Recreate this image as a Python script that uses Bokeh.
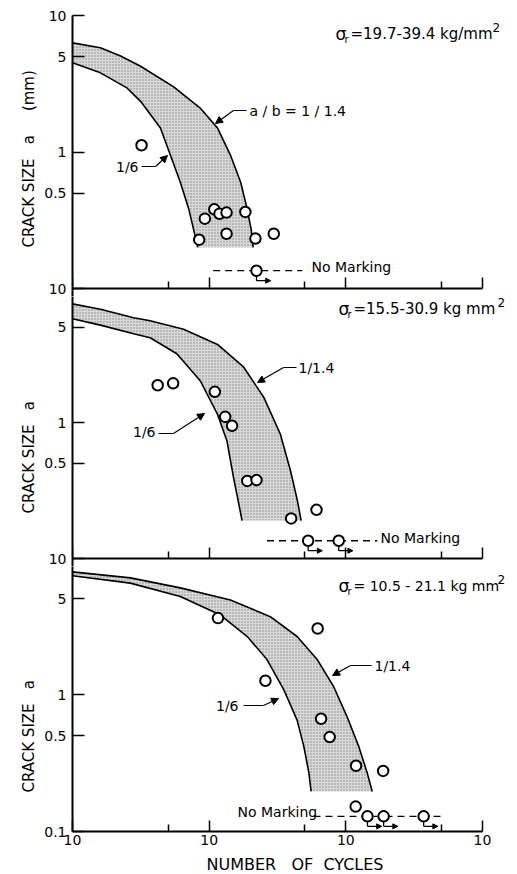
import math
from bokeh.plotting import figure
from bokeh.layouts import column
from bokeh.models import (FixedTicker, CustomJSTickFormatter, Label, Arrow,
                          NormalHead, ColumnDataSource, Range1d, Title)
from bokeh.embed import file_html
from bokeh.resources import INLINE

# ---------------- data (cycles, crack size mm) ----------------
# Panel A : sigma_r = 19.7-39.4 kg/mm2
A_upper_N = [1000, 1600, 2250, 3150, 5500, 8600, 11500, 14300, 17000, 19000, 20300, 21000]
A_upper_a = [6.3, 5.8, 5.05, 4.25, 3.0, 2.1, 1.5, 0.95, 0.6, 0.38, 0.27, 0.2]
A_lower_N = [1000, 1600, 2500, 3150, 4400, 5200, 6150, 7100, 7700, 8250]
A_lower_a = [4.5, 3.8, 2.95, 2.35, 1.5, 0.95, 0.6, 0.38, 0.27, 0.2]
A_pts_N = [3200, 8450, 9300, 10900, 11900, 13400, 13400, 18400, 21800, 29700]
A_pts_a = [1.12, 0.228, 0.325, 0.38, 0.353, 0.36, 0.252, 0.364, 0.232, 0.252]
A_nm_N = [22200]
A_nm_a = [0.135]
A_nm_arrow = [True]
A_dash_N = [10700, 48000]
A_dash_a = [0.135, 0.135]

# Panel B : sigma_r = 15.5-30.9 kg/mm2
B_upper_N = [1000, 1600, 2800, 3700, 6500, 11500, 17900, 25100, 33200, 39400, 44100, 47100]
B_upper_a = [7.45, 6.8, 5.9, 5.6, 4.85, 3.75, 2.55, 1.53, 0.82, 0.44, 0.27, 0.19]
B_lower_N = [1000, 1600, 2800, 3700, 5800, 8600, 11500, 13500, 15100, 16500, 17400]
B_lower_a = [5.8, 5.2, 4.5, 4.2, 3.2, 2.03, 1.15, 0.73, 0.39, 0.25, 0.19]
B_pts_N = [4200, 5450, 11000, 13100, 14700, 19000, 22200, 39800, 61000]
B_pts_a = [1.88, 1.94, 1.68, 1.10, 0.946, 0.372, 0.377, 0.197, 0.228]
B_nm_N = [53000, 88700]
B_nm_a = [0.135, 0.135]
B_nm_arrow = [True, True]
B_dash_N = [26500, 170000]
B_dash_a = [0.135, 0.135]

# Panel C : sigma_r = 10.5-21.1 kg/mm2
C_upper_N = [1000, 2650, 6150, 14300, 28000, 44000, 61700, 81500, 102000, 124000, 143000, 156000]
C_upper_a = [7.85, 7.1, 6.0, 4.9, 3.7, 2.65, 1.8, 1.14, 0.69, 0.42, 0.27, 0.196]
C_lower_N = [1000, 2650, 6150, 12100, 19000, 26500, 35200, 44000, 49200, 53600, 55700]
C_lower_a = [7.35, 6.5, 5.2, 3.8, 2.65, 1.8, 1.08, 0.65, 0.42, 0.27, 0.196]
C_pts_N = [11600, 25800, 62200, 65900, 76200, 118800, 187500]
C_pts_a = [3.61, 1.26, 3.03, 0.665, 0.489, 0.302, 0.277]
C_nm_N = [118000, 144000, 189000, 371000]
C_nm_a = [0.152, 0.129, 0.129, 0.129]
C_nm_arrow = [False, True, True, True]
C_dash_N = [58000, 536000]
C_dash_a = [0.129, 0.129]

x_ticks = [1e3, 1e4, 1e5, 1e6]
x_minor = [5e3, 5e4, 5e5]
y_ticks = [0.1, 0.5, 1, 5, 10]

FONT = "DejaVu Sans"
NB = "\u00a0"
LEFT = 72
AXIS_W = 410                 # pixel length of the x axis (3 decades)
FRAME_W = 517 - LEFT         # frame runs to the right edge so texts are not clipped
XDEC = AXIS_W / 3.0
X_END = 10 ** (3 + FRAME_W / XDEC)


def fx(px):
    return 10 ** (3 + (px - LEFT) / XDEC)


def fy_factory(py01, dec):
    return lambda py: 10 ** (-1 + (py01 - py) / dec)


fyA = fy_factory(288, 136.5)
fyB = fy_factory(558, 136.0)
fyC = fy_factory(831, 137.0)

Y_FMT_10 = """
if (Math.abs(tick-0.1)<1e-9) return "10";
if (Math.abs(tick-0.5)<1e-9) return "0.5";
if (Math.abs(tick-1)<1e-9) return "1";
if (Math.abs(tick-5)<1e-9) return "5";
return "10";
"""
Y_FMT_01 = Y_FMT_10.replace('(tick-0.1)<1e-9) return "10"', '(tick-0.1)<1e-9) return "0.1"')


def make_fig(frame_h, y0, y1, top, bottom, last, ytitle, ytitle_offset):
    p = figure(x_axis_type="log", y_axis_type="log",
               x_range=Range1d(1e3, X_END), y_range=Range1d(y0, y1),
               frame_width=FRAME_W, frame_height=frame_h,
               min_border_left=LEFT, min_border_right=0,
               min_border_top=top, min_border_bottom=bottom,
               toolbar_location=None, output_backend="svg")
    p.outline_line_color = None
    p.grid.visible = False
    p.background_fill_color = "white"
    p.border_fill_color = "white"

    ya = p.yaxis[0]
    ya.ticker = FixedTicker(ticks=y_ticks, minor_ticks=[])
    ya.formatter = CustomJSTickFormatter(code=(Y_FMT_01 if last else Y_FMT_10))
    ya.axis_line_width = 2
    ya.major_tick_in = 12
    ya.major_tick_out = 0
    ya.minor_tick_in = 0
    ya.minor_tick_out = 0
    ya.major_tick_line_width = 1.5
    ya.major_label_text_font = FONT
    ya.major_label_text_font_size = "14px"
    ya.major_label_text_color = "black"
    ya.major_label_standoff = 6

    xa = p.xaxis[0]
    xa.ticker = FixedTicker(ticks=x_ticks, minor_ticks=x_minor)
    xa.bounds = (1e3, 1e6)
    xa.axis_line_width = 2
    xa.major_tick_in = 11
    xa.major_tick_out = 0
    xa.minor_tick_in = 7
    xa.minor_tick_out = 0
    xa.major_tick_line_width = 1.5
    xa.minor_tick_line_width = 1.5
    if last:
        xa.formatter = CustomJSTickFormatter(code='return "10";')
        xa.major_label_text_font = FONT
        xa.major_label_text_font_size = "14px"
        xa.major_label_text_color = "black"
        xa.major_label_standoff = 3
        xa.axis_label = "NUMBER" + NB * 3 + "OF" + NB * 2 + "CYCLES"
        xa.axis_label_text_font = FONT
        xa.axis_label_text_font_style = "normal"
        xa.axis_label_text_font_size = "16px"
        xa.axis_label_text_color = "black"
        xa.axis_label_standoff = 7
    else:
        xa.fixed_location = 0.1
        xa.formatter = CustomJSTickFormatter(code='return "";')
        xa.major_label_text_font_size = "0px"
        xa.major_label_standoff = 0

    p.add_layout(Title(text=ytitle, align="left", offset=ytitle_offset,
                       text_font=FONT, text_font_size="15px", text_font_style="normal",
                       text_color="black", standoff=8), "left")
    return p


def draw_panel(p, up_N, up_a, lo_N, lo_a, pts_N, pts_a, nm_N, nm_a, nm_arrow, dash_N, dash_a):
    band_x = list(up_N) + list(reversed(lo_N))
    band_y = list(up_a) + list(reversed(lo_a))
    p.patch(band_x, band_y, fill_color="#d9d9d9", line_color=None,
            hatch_pattern="dot", hatch_color="#6e6e6e", hatch_scale=3, hatch_alpha=0.75)
    p.line(up_N, up_a, line_color="black", line_width=1.6)
    p.line(lo_N, lo_a, line_color="black", line_width=1.6)
    p.line(dash_N, dash_a, line_color="black", line_width=1.3, line_dash="7 5")
    p.scatter(pts_N, pts_a, marker="circle", size=10.5, fill_color="white",
              line_color="black", line_width=2)
    p.scatter(nm_N, nm_a, marker="circle", size=10.5, fill_color="white",
              line_color="black", line_width=2)
    ax = [n for n, f in zip(nm_N, nm_arrow) if f]
    ay = [a for a, f in zip(nm_a, nm_arrow) if f]
    if ax:
        y_top = [a * 0.92 for a in ay]
        y_bot = [a * 0.845 for a in ay]
        p.segment(ax, y_top, ax, y_bot, line_color="black", line_width=1.3)
        src = ColumnDataSource(dict(x0=ax, y0=y_bot, x1=[n * 1.27 for n in ax], y1=y_bot))
        p.add_layout(Arrow(end=NormalHead(size=5, fill_color="black", line_color="black"),
                           source=src, x_start="x0", y_start="y0", x_end="x1", y_end="y1",
                           line_width=1.3))


def label(p, x, y, text, size="14px", align="left", baseline="middle", angle=0):
    p.add_layout(Label(x=x, y=y, text=text, text_font=FONT, text_font_size=size,
                       text_align=align, text_baseline=baseline, angle=angle,
                       text_color="black"))


def leader(p, x_text, x_bend, y_bend, x_tip, y_tip):
    p.line([x_text, x_bend], [y_bend, y_bend], line_color="black", line_width=1.2)
    p.add_layout(Arrow(end=NormalHead(size=7, fill_color="black", line_color="black"),
                       x_start=x_bend, y_start=y_bend, x_end=x_tip, y_end=y_tip,
                       line_width=1.2))


def sigma(p, fy, px, py, rest, size, px2, py2):
    label(p, fx(px), fy(py), "σ", size="17px")
    label(p, fx(px + 9), fy(py + 6), "r", size="10px")
    label(p, fx(px + 15), fy(py), rest, size=size)
    label(p, fx(px2), fy(py2), "2", size="12px")


# ---------------- panel A ----------------
pA = make_fig(281, 10 ** (-1 - 8 / 136.5), 10, 15, 0, False,
              "CRACK" + NB + "SIZE" + NB * 3 + "a" + NB * 5 + "(mm)", 49)
draw_panel(pA, A_upper_N, A_upper_a, A_lower_N, A_lower_a, A_pts_N, A_pts_a,
           A_nm_N, A_nm_a, A_nm_arrow, A_dash_N, A_dash_a)
sigma(pA, fyA, 335, 33, "=19.7-39.4 kg/mm", "15px", 492, 27)
label(pA, fx(249), fyA(110), "a / b = 1 / 1.4")
leader(pA, fx(246), fx(233), fyA(110), fx(215), fyA(123))
label(pA, fx(138), fyA(166), "1/6", align="right")
leader(pA, fx(141), fx(155), fyA(166), fx(167), fyA(155))
label(pA, fx(311), fyA(266), "No Marking")

# ---------------- panel B ----------------
pB = make_fig(270, 10 ** (-1 - 8 / 136.0), 10 ** (-1 + 262 / 136.0), 0, 0, False,
              "CRACK" + NB + "SIZE" + NB * 3 + "a", 53)
draw_panel(pB, B_upper_N, B_upper_a, B_lower_N, B_lower_a, B_pts_N, B_pts_a,
           B_nm_N, B_nm_a, B_nm_arrow, B_dash_N, B_dash_a)
sigma(pB, fyB, 338, 308, "=15.5-30.9 kg mm", "15px", 497, 302)
label(pB, fx(298), fyB(367), "1/1.4")
leader(pB, fx(296), fx(283), fyB(367), fx(257), fyB(382))
label(pB, fx(155), fyB(431), "1/6", align="right")
leader(pB, fx(158), fx(173), fyB(433), fx(204), fyB(413))
label(pB, fx(380), fyB(537), "No Marking")

# ---------------- panel C ----------------
pC = make_fig(265, 0.1, 10 ** (-1 + 265 / 137.0), 0, 43, True,
              "CRACK" + NB + "SIZE" + NB * 3 + "a", 39)
draw_panel(pC, C_upper_N, C_upper_a, C_lower_N, C_lower_a, C_pts_N, C_pts_a,
           C_nm_N, C_nm_a, C_nm_arrow, C_dash_N, C_dash_a)
sigma(pC, fyC, 338, 585, "= 10.5 - 21.1 kg mm", "14px", 497, 579)
label(pC, fx(374), fyC(665), "1/1.4")
leader(pC, fx(371), fx(350), fyC(665), fx(332), fyC(675))
label(pC, fx(238), fyC(705), "1/6", align="right")
leader(pC, fx(243), fx(263), fyC(705), fx(278), fyC(698))
label(pC, fx(237), fyC(811), "No Marking")

layout = column(pA, pB, pC, spacing=0)
open("out.html", "w").write(file_html(layout, INLINE))
